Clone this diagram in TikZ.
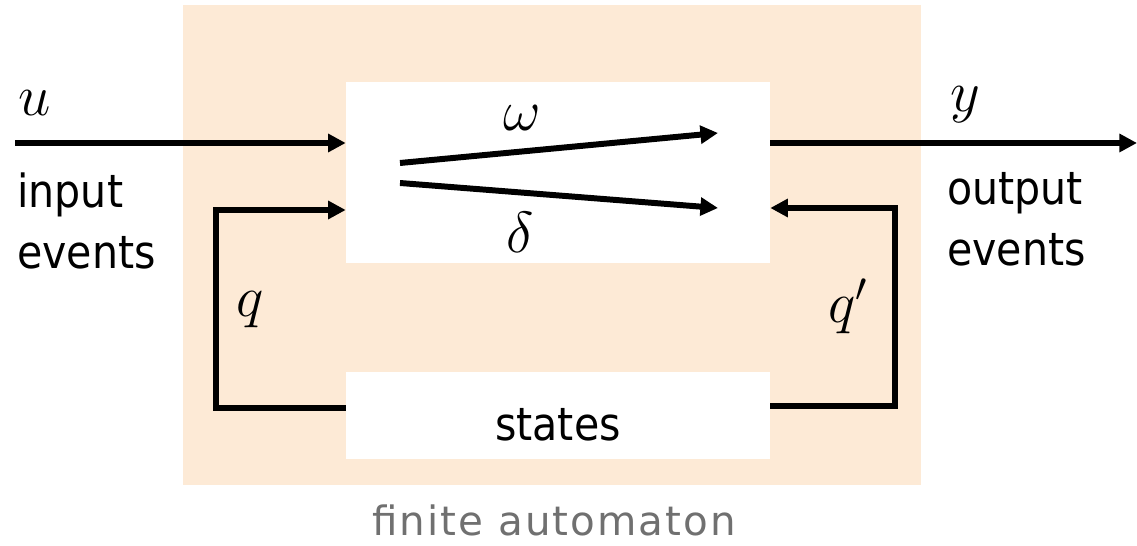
\RequirePackage{fix-cm}
\documentclass[tikz,border=0pt]{standalone}
\usepackage{fontspec}
\setmainfont{DejaVu Sans}[FakeStretch=0.9]
\newfontfamily\capfont{DejaVu Sans}[LetterSpace=5]
\usetikzlibrary{arrows.meta}

\definecolor{fabg}{RGB}{253,234,214}
\definecolor{fagray}{RGB}{112,112,112}
\tikzset{
  flow/.style={line width=3.4pt, -{Triangle[length=10pt,width=10pt]}},
  blockbox/.style={fill=white, minimum width=8.48cm, inner sep=0pt},
  lbl/.style={font=\fontsize{26}{35}\selectfont, inner sep=0pt},
  mlbl/.style={font=\fontsize{33}{40}\selectfont, inner sep=0pt},
}

\begin{document}
\begin{tikzpicture}[x=0.02cm, y=-0.02cm]
  \useasboundingbox (0,0) rectangle (1137,546);

  % automaton and its two blocks
  \node[fill=fabg, minimum width=14.76cm, minimum height=9.6cm, inner sep=0pt] (fa) at (552,245) {};
  \node[blockbox, minimum height=3.62cm] (logic) at (558,172.5) {};
  \node[blockbox, lbl, minimum height=1.74cm, text height=28pt, text depth=0pt] (mem) at (558,415.5) {states};
  \node[inner sep=0pt, text=fagray, font=\capfont\fontsize{23}{28}\selectfont] (falbl) at (554,520) {finite automaton};

  % input and output
  \coordinate (in) at (15,143);
  \coordinate (out) at (1137,143);
  \draw[flow] (in) -- (in -| logic.west);
  \draw[flow] (in -| logic.east) -- (out);
  \node[mlbl] (ulbl) at (35,103) {$u$};
  \node[mlbl] (ylbl) at (965,105) {$y$};
  \node[lbl, align=left, anchor=north west] (inlbl) at (17,172) {input\\events};
  \node[lbl, align=left, anchor=north west] (outlbl) at (947,172) {output\\events};

  % state feedback
  \draw[flow] (mem.west |- 0,408) -| (216,210) -- (logic.west |- 0,210);
  \draw[flow] (mem.east |- 0,406) -| (895,208) -- (logic.east |- 0,208);
  \node[mlbl] (qlbl) at (250,310) {$q$};
  \node[mlbl] (qqlbl) at (848,306) {$q'$};

  % output and transition maps
  \coordinate (w0) at (400,163);
  \coordinate (w1) at (718,133);
  \coordinate (d0) at (400,183);
  \coordinate (d1) at (718,208);
  \draw[flow] (w0) -- (w1);
  \draw[flow] (d0) -- (d1);
  \node[mlbl] (wlbl) at (522,118) {$\omega$};
  \node[mlbl] (dlbl) at (520,232) {$\delta$};
\end{tikzpicture}
\end{document}
